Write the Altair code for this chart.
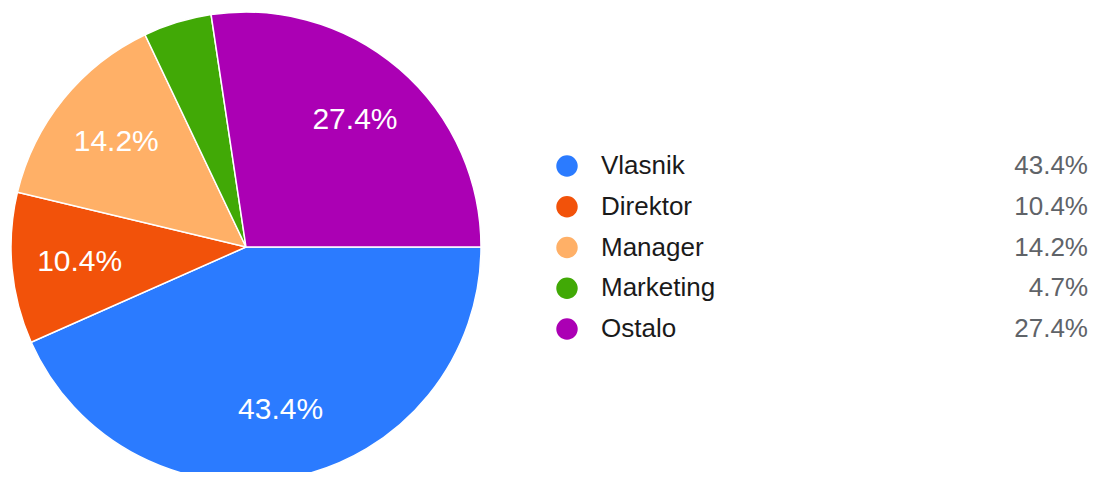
import math
import altair as alt
import pandas as pd

categories = ["Vlasnik", "Direktor", "Manager", "Marketing", "Ostalo"]
values = [43.4, 10.4, 14.2, 4.7, 27.4]
labels = ["43.4%", "10.4%", "14.2%", "4.7%", "27.4%"]
colors = ["#2B7BFF", "#F2520A", "#FFB067", "#41A906", "#AB00B4"]

df = pd.DataFrame({
    "cat": categories,
    "value": values,
    "label": labels,
    "order": list(range(len(categories))),
})

FONT = "Liberation Sans"
base = alt.Chart(df)

theta = alt.Theta("value:Q", stack=True,
                  scale=alt.Scale(range=[math.pi / 2, math.pi / 2 + 2 * math.pi]))
color = alt.Color("cat:N", scale=alt.Scale(domain=categories, range=colors), legend=None)
order = alt.Order("order:Q", sort="ascending")

cx, cy = 238, 239

pie = base.mark_arc(outerRadius=235, stroke="white", strokeWidth=1.5).encode(
    theta=theta, color=color, order=order,
    x=alt.value(cx), y=alt.value(cy),
)

pie_labels = base.transform_calculate(
    shown="datum.value > 5 ? datum.label : ''"
).mark_text(radius=167, fontSize=30, color="white", font=FONT,
            align="center", baseline="middle").encode(
    theta=theta, order=order, text="shown:N",
    x=alt.value(cx), y=alt.value(cy),
)

leg_y = alt.Y("cat:N", sort=categories,
              scale=alt.Scale(type="point", range=[158, 321], padding=0), axis=None)

dots = base.mark_circle(size=460, opacity=1).encode(
    x=alt.value(559), y=leg_y, color=color,
)
names = base.mark_text(align="left", baseline="middle", fontSize=26,
                       color="#1a1a1a", font=FONT).encode(
    x=alt.value(593), y=leg_y, text="cat:N",
)
vals = base.mark_text(align="right", baseline="middle", fontSize=26,
                      color="#5f6368", font=FONT).encode(
    x=alt.value(1080), y=leg_y, text="label:N",
)

chart = alt.layer(pie, pie_labels, dots, names, vals).properties(
    width=1080, height=464, padding=0, autosize="none"
).configure_view(stroke=None)

chart.save("out.html", embed_options={"renderer": "svg", "actions": False})
